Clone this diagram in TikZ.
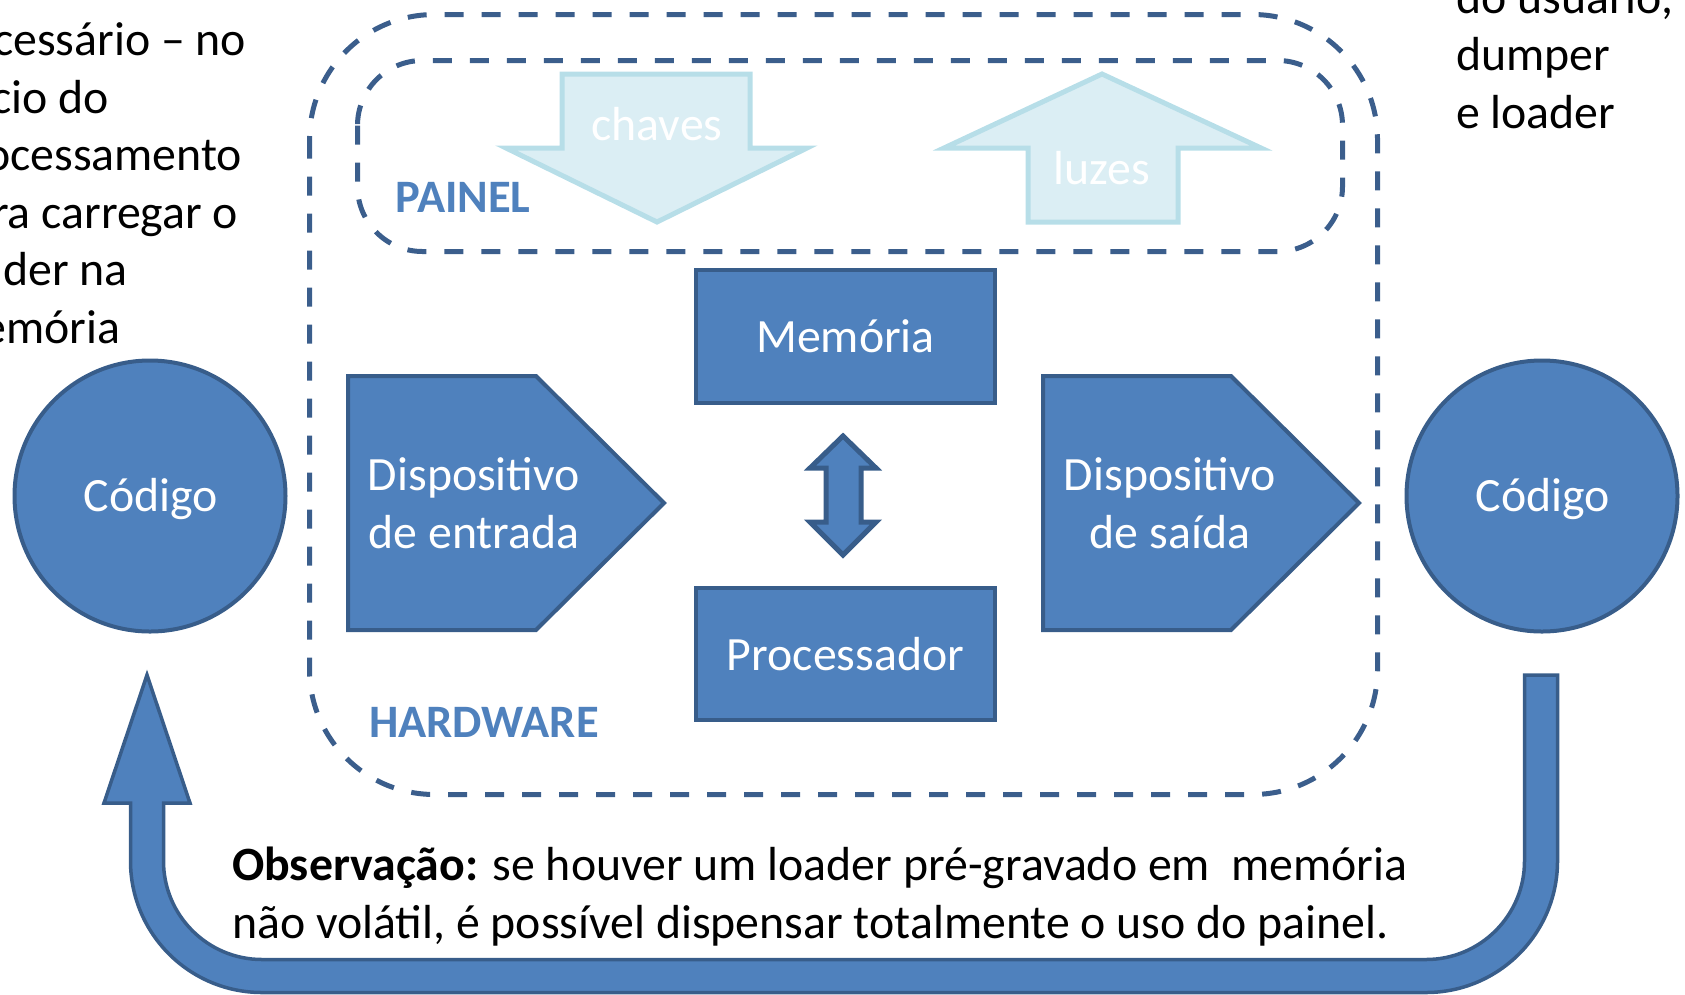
\documentclass[tikz,border=0pt]{standalone}
\usepackage{fontspec}
\setmainfont{Carlito}
\definecolor{accent}{HTML}{4F81BD}
\definecolor{edge}{HTML}{385D8A}
\definecolor{dashblue}{HTML}{3B5E8C}
\definecolor{pale}{HTML}{DBEEF4}
\definecolor{paleedge}{HTML}{B7DEE8}
\begin{document}
\begin{tikzpicture}[x=1pt,y=-1pt,
  bigfont/.style={font=\fontsize{47.8}{57.5}\selectfont},
  blueshape/.style={fill=accent, draw=edge, line width=4pt, line join=miter},
  paleshape/.style={fill=pale, draw=paleedge, line width=5pt, line join=miter},
  intext/.style={bigfont, text=white, align=center, inner sep=0pt},
  plain/.style={bigfont, text=black, align=left, inner sep=0pt},
  tag/.style={font=\fontsize{46.5}{55}\selectfont\bfseries, text=accent, inner sep=0pt},
  dashbox/.style={draw=dashblue, line width=5pt, dash pattern=on 19pt off 18pt}
]
\useasboundingbox (0,0) rectangle (1685,994);

% hardware frame and front panel frame
\draw[dashbox, rounded corners=125pt] (309.5,14.5) rectangle (1377.5,794.5);
\draw[dashbox, rounded corners=65pt] (357.5,60.5) rectangle (1342.5,251.5);
\node[tag] (painel) at (463,197) {PAINEL};
\node[tag] (hw) at (484,722) {HARDWARE};

% switches and lights on the panel
\draw[paleshape] (562,74) -- (750,74) -- (750,148) -- (807,148) -- (657,222) -- (506,148) -- (562,148) -- cycle;
\node[intext] (chaves) at (657,124) {chaves};
\draw[paleshape] (1102,74) -- (1261,148) -- (1178,148) -- (1178,222) -- (1028,222) -- (1028,148) -- (944,148) -- cycle;
\node[intext] (luzes) at (1102,168) {luzes};

% memory and processor
\node[blueshape, intext, minimum width=299pt, minimum height=133pt] (mem) at (845.5,336.5) {Memória};
\node[blueshape, intext, minimum width=299pt, minimum height=132pt] (cpu) at (845.5,654) {Processador};
\draw[blueshape, line width=5pt] (843,436) -- (876,468) -- (861,468) -- (861,522) -- (876,522) -- (843,555) -- (810,522) -- (826,522) -- (826,468) -- (810,468) -- cycle;

% input and output devices
\draw[blueshape] (348,376) -- (536,376) -- (664,503) -- (536,630) -- (348,630) -- cycle;
\node[intext, anchor=base] (entrada) at (474,548) {Dispositivo\\de entrada};
\draw[blueshape] (1043,376) -- (1231,376) -- (1359,503) -- (1231,630) -- (1043,630) -- cycle;
\node[intext, anchor=base] (saida) at (1170,548) {Dispositivo\\de saída};

% code on both sides
\node[circle, blueshape, minimum size=271pt] (codeL) at (150,496) {};
\node[intext] at ([xshift=1pt,yshift=-3pt]codeL.center) {Código};
\node[circle, blueshape, minimum size=271pt] (codeR) at (1542,496) {};
\node[intext] at ([xshift=1pt,yshift=-3pt]codeR.center) {Código};

% return path from output code back to input code
\draw[blueshape, line width=3.5pt]
  (1557.5,675) -- (1557.5,861) arc[start angle=0, end angle=90, radius=131.5]
  -- (262,992.5) arc[start angle=90, end angle=180, radius=131.5]
  -- (130.5,803) -- (104,803) -- (147,675) -- (190,803) -- (163.5,803)
  -- (163.5,861) arc[start angle=180, end angle=90, radius=98.5]
  -- (1426,959.5) arc[start angle=90, end angle=0, radius=98.5]
  -- (1524.5,675) -- cycle;

% side notes
\node[plain, anchor=base west] (noteL) at (-56,343) {necessário – no\\início do\\processamento\\para carregar o\\loader na\\memória};
\node[plain, anchor=base west] (noteR) at (1456,128) {do usuário,\\dumper\\e loader};
\node[plain, anchor=base west] (obs) at (232,938) {\textbf{Observação:} se houver um loader pré-gravado em~~memória\\não volátil, é possível dispensar totalmente o uso do painel.};
\end{tikzpicture}
\end{document}
